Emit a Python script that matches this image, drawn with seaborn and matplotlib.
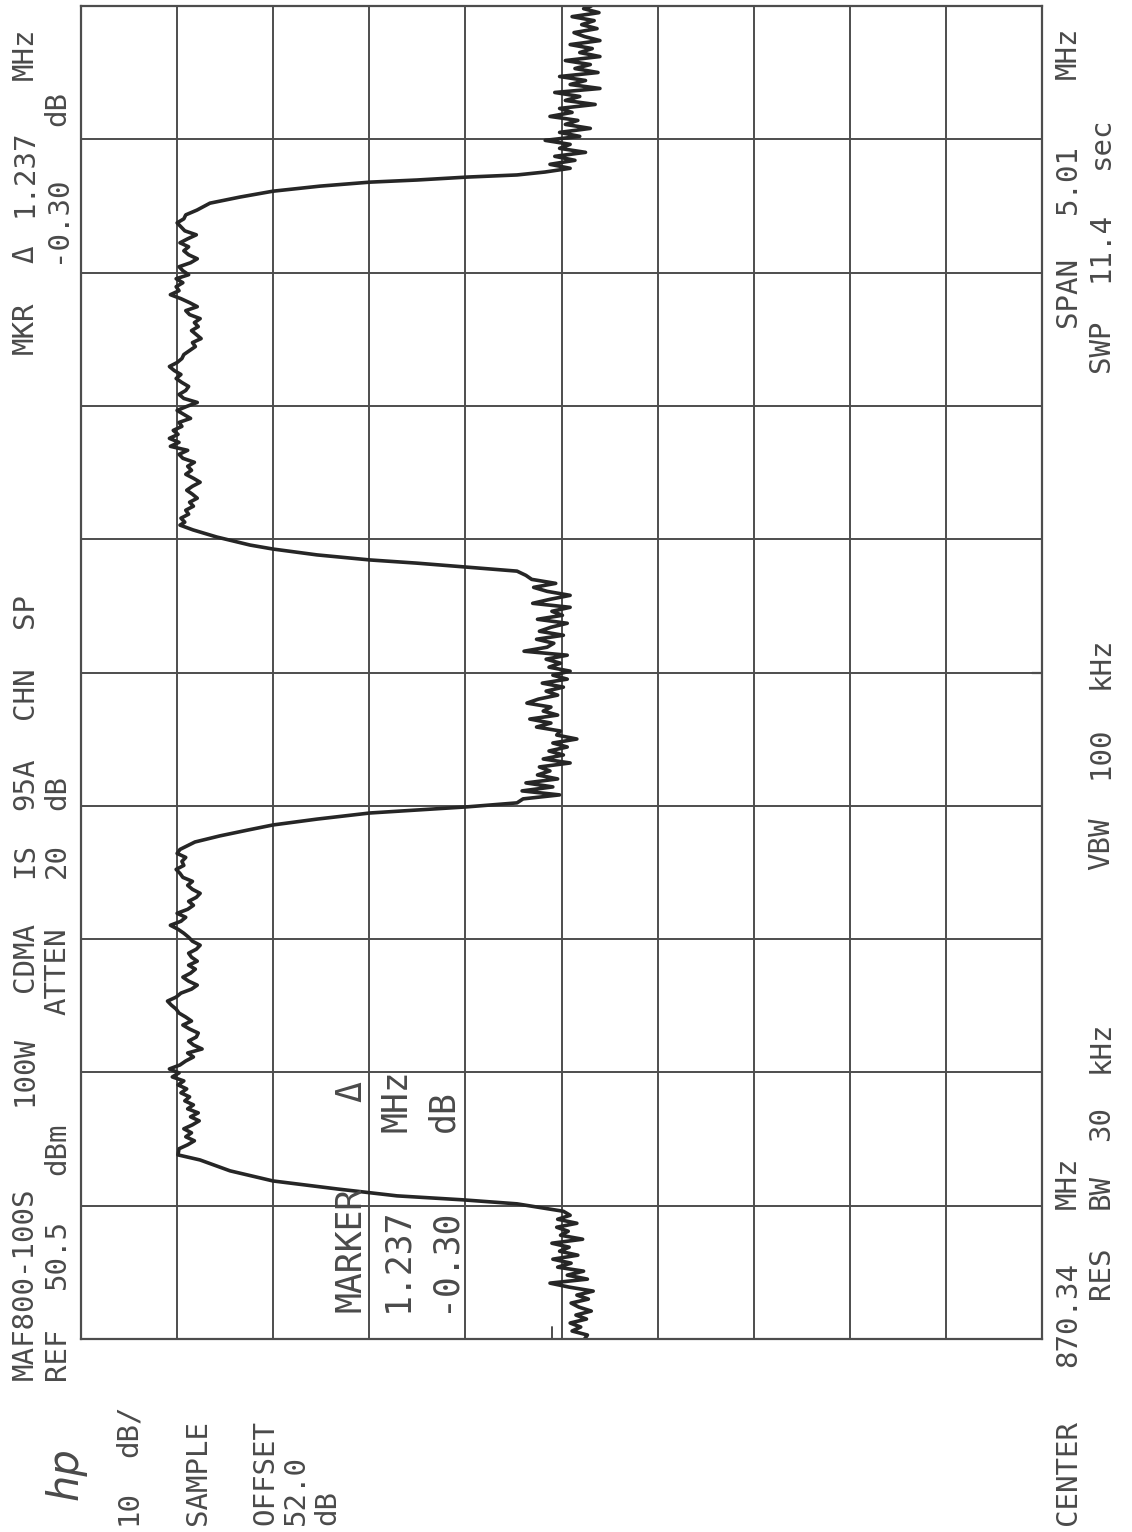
import re
import numpy as np
import pandas as pd
import matplotlib
matplotlib.use("Agg")
import matplotlib.pyplot as plt
import seaborn as sns

# analyzer settings
CENTER_MHZ = 870.34
SPAN_MHZ = 5.01
REF_DBM = 50.5
DB_PER_DIV = 10

# trace: offset from center (MHz) and level (dBm)
# lower noise floor
noise1_off = [-2.505, -2.490, -2.475, -2.460, -2.445, -2.430, -2.415, -2.400, -2.385, -2.370,
              -2.355, -2.340, -2.325, -2.310, -2.295, -2.280, -2.265, -2.250, -2.235, -2.220,
              -2.205, -2.190, -2.175, -2.160, -2.145, -2.130, -2.115, -2.100, -2.085, -2.070,
              -2.055, -2.040, -2.025]
noise1_lvl = [-1.9, -2.2, -0.6, -1.5, -0.4, -2.1, -1.0, -2.6, -1.3, -0.5,
              -2.3, -1.1, -2.8, -0.3, 1.7, -2.2, -0.1, -1.8, 0.9, -0.5,
              1.4, -1.2, 0.7, -0.3, 1.5, -1.7, 0.6, -0.2, 1.0, -1.1,
              0.9, -0.4, 0.3]
# first carrier
rise1_off = [-1.997, -1.982, -1.967, -1.941, -1.911, -1.873, -1.832, -1.813]
rise1_lvl = [5.13, 10.75, 17.62, 23.86, 30.52, 34.99, 38.12, 40.41]
top1_off = [-1.790, -1.775, -1.760, -1.745, -1.730, -1.715, -1.700, -1.685, -1.670, -1.655,
            -1.640, -1.625, -1.610, -1.595, -1.580, -1.565, -1.550, -1.535, -1.520, -1.505,
            -1.490, -1.475, -1.460, -1.445, -1.430, -1.415, -1.400, -1.385, -1.370, -1.355,
            -1.340, -1.325, -1.310, -1.295, -1.280, -1.265, -1.250, -1.235, -1.220, -1.205,
            -1.190, -1.175, -1.160, -1.145, -1.130, -1.115, -1.100, -1.085, -1.070, -1.055,
            -1.040, -1.025, -1.010, -0.995, -0.980, -0.965, -0.950, -0.935, -0.920, -0.905,
            -0.890, -0.875, -0.860, -0.845, -0.830, -0.815, -0.800, -0.785, -0.770, -0.755,
            -0.740, -0.725, -0.710, -0.695, -0.680, -0.665]
top1_lvl = [40.3, 39.4, 38.7, 39.6, 39.0, 39.8, 38.9, 38.2, 39.1, 38.3,
            39.4, 38.8, 39.7, 39.2, 40.1, 39.5, 40.4, 39.8, 41.0, 40.3,
            41.3, 40.2, 39.6, 38.8, 39.4, 37.9, 38.8, 39.3, 38.5, 38.3,
            39.2, 39.9, 39.0, 39.6, 40.3, 40.6, 41.1, 41.5, 40.6, 40.1,
            39.0, 38.4, 39.3, 39.9, 39.1, 38.6, 39.3, 38.4, 39.0, 39.3,
            38.5, 38.1, 38.9, 39.3, 39.8, 40.4, 41.2, 40.1, 39.6, 40.5,
            39.4, 38.8, 39.3, 38.5, 38.1, 38.9, 39.4, 38.9, 39.9, 40.2,
            40.6, 39.8, 40.0, 39.6, 40.5, 40.2]
fall1_off = [-0.637, -0.614, -0.592, -0.573, -0.551, -0.528, -0.517, -0.505, -0.490]
fall1_lvl = [38.64, 36.04, 33.12, 30.52, 25.94, 20.43, 15.54, 10.33, 5.13]
# noise floor between the carriers
noise2_off = [-0.475, -0.460, -0.445, -0.430, -0.415, -0.400, -0.385, -0.370, -0.355, -0.340,
              -0.325, -0.310, -0.295, -0.280, -0.265, -0.250, -0.235, -0.220, -0.205, -0.190,
              -0.175, -0.160, -0.145, -0.130, -0.115, -0.100, -0.085, -0.070, -0.055, -0.040,
              -0.025, -0.010, 0.005, 0.020, 0.035, 0.050, 0.065, 0.080, 0.095, 0.110,
              0.125, 0.140, 0.155, 0.170, 0.185, 0.200, 0.215, 0.230, 0.245, 0.260,
              0.275, 0.290, 0.305, 0.320, 0.335, 0.350, 0.365]
noise2_lvl = [4.5, 0.7, 4.6, 1.4, 4.2, 0.9, 3.0, 1.7, 2.8, -0.4,
              2.4, 0.3, 1.8, -0.1, 1.4, -1.1, 1.0, 0.6, 3.1, 1.6,
              3.8, 0.9, 2.4, 1.6, 4.1, 2.9, 0.9, 2.1, 0.3, 2.5,
              -0.1, 1.4, -0.4, 1.8, 0.6, 2.1, -0.1, 4.4, 2.0, 1.3,
              3.1, 0.3, 2.8, 1.6, -0.1, 3.0, 0.4, 1.5, -0.4, 3.5,
              1.7, -0.4, 2.0, 3.4, 1.1, 3.6, 4.2]
# second carrier
rise2_off = [0.381, 0.396, 0.411, 0.423, 0.442, 0.464, 0.479, 0.509, 0.536, 0.554]
rise2_lvl = [5.13, 10.33, 15.54, 20.43, 25.94, 30.52, 32.91, 36.35, 38.85, 40.20]
top2_off = [0.565, 0.580, 0.595, 0.610, 0.625, 0.640, 0.655, 0.670, 0.685, 0.700,
            0.715, 0.730, 0.745, 0.760, 0.775, 0.790, 0.805, 0.820, 0.835, 0.850,
            0.865, 0.880, 0.895, 0.910, 0.925, 0.940, 0.955, 0.970, 0.985, 1.000,
            1.015, 1.030, 1.045, 1.060, 1.075, 1.090, 1.105, 1.120, 1.135, 1.150,
            1.165, 1.180, 1.195, 1.210, 1.225, 1.240, 1.255, 1.270, 1.285, 1.300,
            1.315, 1.330, 1.345, 1.360, 1.375, 1.390, 1.405, 1.420, 1.435, 1.450,
            1.465, 1.480, 1.495, 1.510, 1.525, 1.540, 1.555, 1.570, 1.585, 1.600,
            1.615, 1.630, 1.645, 1.660, 1.675, 1.690, 1.705, 1.720]
top2_lvl = [39.7, 40.1, 39.3, 39.6, 38.8, 39.2, 38.4, 38.9, 39.5, 38.9,
            38.1, 38.8, 39.6, 39.0, 39.4, 38.7, 39.9, 40.3, 39.4, 41.2,
            40.3, 41.3, 40.4, 40.9, 40.0, 40.3, 39.1, 39.8, 40.5, 39.5,
            38.4, 39.8, 40.3, 39.6, 39.3, 40.0, 40.6, 40.1, 40.8, 41.3,
            40.5, 40.0, 39.8, 39.2, 38.6, 38.9, 38.0, 38.5, 39.0, 38.3,
            38.7, 38.1, 39.2, 39.6, 38.4, 39.2, 40.1, 41.2, 40.3, 40.6,
            39.9, 40.6, 39.3, 39.9, 40.3, 39.1, 38.4, 39.3, 39.8, 39.3,
            40.2, 39.4, 38.5, 39.7, 40.1, 40.5, 39.8, 39.6]
fall2_off = [1.738, 1.764, 1.787, 1.809, 1.828, 1.843, 1.851, 1.862, 1.870, 1.881]
fall2_lvl = [38.43, 37.08, 33.95, 30.52, 25.63, 20.43, 15.54, 10.33, 5.13, 2.22]
# upper noise floor
noise3_off = [1.895, 1.910, 1.925, 1.940, 1.955, 1.970, 1.985, 2.000, 2.015, 2.030,
              2.045, 2.060, 2.075, 2.090, 2.105, 2.120, 2.135, 2.150, 2.165, 2.180,
              2.195, 2.210, 2.225, 2.240, 2.255, 2.270, 2.285, 2.300, 2.315, 2.330,
              2.345, 2.360, 2.375, 2.390, 2.405, 2.420, 2.435, 2.450, 2.465, 2.480,
              2.495, 2.505]
noise3_lvl = [-0.4, 1.7, -0.9, 1.2, -2.0, 0.7, -0.4, 2.2, -1.4, 0.7,
              -2.5, 0.1, -1.2, 1.7, -0.6, 0.7, -3.0, 0.1, -1.4, 1.2,
              -3.5, -0.4, -2.0, 0.7, -3.3, -0.9, -2.5, 0.1, -3.5, -1.4,
              -2.7, -0.4, -3.5, -1.9, -0.8, -3.2, -1.6, -2.9, -0.6, -3.4,
              -1.8, -2.6]

# screen annotations, laid out in HP character cells
top_line_1 = "MAF800-100S 100W CDMA IS 95A CHN SP          MKR \u0394 1.237 MHz"
top_line_2 = "REF 50.5 dBm    ATTEN 20 dB" + " " * 22 + "-0.30 dB"
bottom_line_1 = "CENTER 870.34 MHz" + " " * 36 + "SPAN 5.01  MHz"
bottom_line_2 = (" " * 10 + "RES BW 30 kHz" + " " * 6 + "VBW 100 kHz"
                 + " " * 11 + "SWP 11.4 sec")
side_labels = ["10 dB/", "SAMPLE", "OFFSET", "52.0", "dB"]
marker_block = ["MARKER \u0394", "1.237 MHz", "-0.30 dB"]

sns.set_style("white")
plt.rcParams['font.family'] = ['DejaVu Sans Mono', 'DejaVu Sans']

W, H = 1132, 1532
fig = plt.figure(figsize=(W / 100, H / 100), dpi=100)
fig.patch.set_facecolor('white')
ax = fig.add_axes([81 / W, 1 - 1339 / H, (1042 - 81) / W, (1339 - 6) / H])

offsets = (noise1_off + rise1_off + top1_off + fall1_off + noise2_off
           + rise2_off + top2_off + fall2_off + noise3_off)
levels = (noise1_lvl + rise1_lvl + top1_lvl + fall1_lvl + noise2_lvl
          + rise2_lvl + top2_lvl + fall2_lvl + noise3_lvl)
df = pd.DataFrame({'freq': CENTER_MHZ + np.array(offsets), 'level': levels})
sns.lineplot(data=df, x='level', y='freq', sort=False, estimator=None,
             color='#262626', lw=2.6, ax=ax)

ax.set_xlim(REF_DBM, REF_DBM - 10 * DB_PER_DIV)
ax.set_ylim(CENTER_MHZ - SPAN_MHZ / 2, CENTER_MHZ + SPAN_MHZ / 2)
ax.set_xticks(np.linspace(REF_DBM, REF_DBM - 10 * DB_PER_DIV, 11))
ax.set_yticks(np.linspace(CENTER_MHZ - SPAN_MHZ / 2, CENTER_MHZ + SPAN_MHZ / 2, 11))
ax.grid(True, color='#4d4d4d', lw=1.4)
ax.tick_params(length=0, labelbottom=False, labelleft=False)
ax.set_xlabel('')
ax.set_ylabel('')
for s in ax.spines.values():
    s.set_color('#4d4d4d')
    s.set_linewidth(1.6)
# small center tick and display-line mark
ax.axhline(CENTER_MHZ, xmin=0.99, xmax=1.0, color='#4d4d4d', lw=1.6)
ax.axvline(1.5, ymin=0, ymax=0.009, color='#4d4d4d', lw=1.4)

TXT = dict(color='#4a4a4a', rotation=90, rotation_mode='anchor',
           ha='left', va='center')


def put_words(x, y0, pitch, line, size=21):
    # place each word at its character cell, text runs bottom to top
    for m in re.finditer(r'\S+', line):
        y = y0 - m.start() * pitch
        fig.text(x / W, 1 - y / H, m.group(), fontsize=size, **TXT)


put_words(25, 1380, 22.8, top_line_1)
put_words(57, 1380, 22.8, top_line_2)
put_words(1068, 1525, 22.6, bottom_line_1)
put_words(1101, 1525, 22.6, bottom_line_2)

side_x = [129, 198, 265, 296, 327]
for lbl, sx in zip(side_labels, side_x):
    put_words(sx, 1525, 22.6, lbl)

for lbl, mx in zip(marker_block, [351, 397, 443]):
    put_words(mx, 1312, 30, lbl, size=25)

fig.text(66 / W, 1 - 1500 / H, "hp", fontsize=30, style='italic',
         family='DejaVu Sans', **TXT)

fig.savefig("out.png", dpi=100)
